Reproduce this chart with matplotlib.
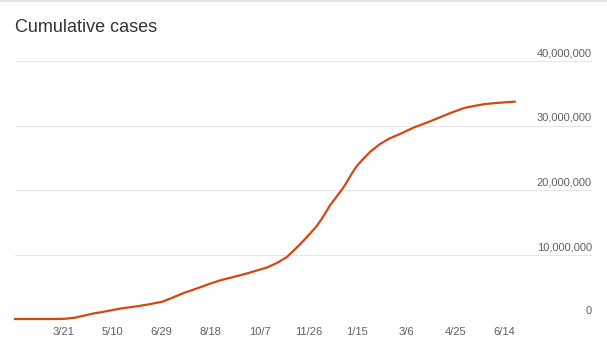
import datetime as dt

import numpy as np
import matplotlib
matplotlib.use('Agg')
import matplotlib.pyplot as plt
import matplotlib.transforms as mtransforms
from matplotlib.lines import Line2D

plt.rcParams['font.family'] = ['Liberation Sans', 'DejaVu Sans']

# cumulative cases (millions)
dates = ['2020-01-31', '2020-03-10', '2020-03-22', '2020-04-01', '2020-04-10',
         '2020-04-20', '2020-04-30', '2020-05-17', '2020-06-05', '2020-06-17',
         '2020-06-30', '2020-07-10', '2020-07-21', '2020-08-07', '2020-08-17',
         '2020-08-28', '2020-09-10', '2020-09-25', '2020-10-15', '2020-10-25',
         '2020-11-04', '2020-11-17', '2020-11-25', '2020-12-04', '2020-12-10',
         '2020-12-18', '2020-12-30', '2021-01-03', '2021-01-10', '2021-01-15',
         '2021-01-21', '2021-01-28', '2021-02-07', '2021-02-17', '2021-02-28',
         '2021-03-14', '2021-03-28', '2021-04-10', '2021-04-23', '2021-05-05',
         '2021-05-17', '2021-05-27', '2021-06-07', '2021-06-16', '2021-06-25']
cases = [0.0, 0.0, 0.03, 0.2, 0.5,
         0.85, 1.1, 1.6, 2.0, 2.3,
         2.7, 3.3, 4.0, 4.9, 5.45,
         6.0, 6.5, 7.1, 8.0, 8.7,
         9.6, 11.5, 12.8, 14.3, 15.6,
         17.6, 20.0, 20.9, 22.7, 23.8,
         24.8, 25.9, 27.1, 28.0, 28.7,
         29.7, 30.5, 31.3, 32.1, 32.75,
         33.1, 33.35, 33.5, 33.6, 33.7]

yticks = [0, 10e6, 20e6, 30e6, 40e6]
xtick_start = dt.date(2020, 3, 21)
xtick_step = 50
n_xticks = 10

x = [dt.datetime.strptime(d, '%Y-%m-%d') for d in dates]
y = np.array(cases) * 1e6

fig = plt.figure(figsize=(6.07, 3.63), dpi=100)
ax = fig.add_axes([15/607, 44/363, 577/607, 258/363])

ax.plot(x, y, color='#d4470f', lw=1.6, clip_on=False, zorder=3,
        solid_joinstyle='round')

ax.set_xlim(dt.datetime(2020, 1, 31), dt.datetime(2021, 9, 12))
ax.set_ylim(0, 40e6)

xt = [xtick_start + dt.timedelta(days=xtick_step*i) for i in range(n_xticks)]
ax.set_xticks([dt.datetime(d.year, d.month, d.day) for d in xt])
ax.set_xticklabels([f"{d.month}/{d.day}" for d in xt])

ax.set_yticks(yticks)
ax.set_yticklabels([f"{int(v):,}" for v in yticks])
ax.yaxis.set_ticks_position('right')
ax.tick_params(axis='y', length=0, pad=0, labelright=True, labelleft=False,
               labelsize=8, labelcolor='#606060')
ax.tick_params(axis='x', length=0, pad=6, labelsize=8, labelcolor='#606060')
off = mtransforms.ScaledTranslation(0, 4.5/100, fig.dpi_scale_trans)
for lab in ax.get_yticklabels():
    lab.set_horizontalalignment('right')
    lab.set_verticalalignment('baseline')
    lab.set_transform(lab.get_transform() + off)

ax.grid(axis='y', color='#e6e6e6', lw=0.8)
ax.set_axisbelow(True)
for s in ax.spines.values():
    s.set_visible(False)

fig.text(15/607, 1 - 27/363, "Cumulative cases", fontsize=13,
         color='#333333', va='center', ha='left')
fig.add_artist(Line2D([0, 1], [1 - 0.5/363, 1 - 0.5/363], color='#e3e3e3',
                      lw=1.4, transform=fig.transFigure))

fig.savefig('out.png', dpi=100)
